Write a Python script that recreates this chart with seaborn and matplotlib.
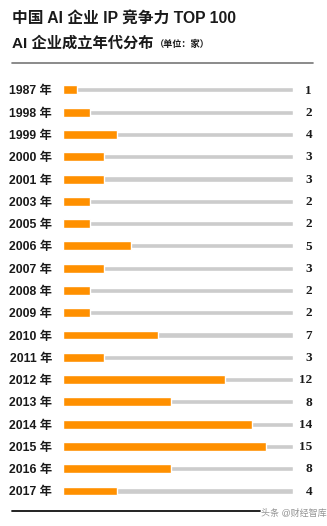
import matplotlib
matplotlib.use("Agg")
import matplotlib.pyplot as plt
import seaborn as sns
import pandas as pd

years = ["1987", "1998", "1999", "2000", "2001", "2003", "2005", "2006", "2007",
         "2008", "2009", "2010", "2011", "2012", "2013", "2014", "2015", "2016", "2017"]
counts = [1, 2, 4, 3, 3, 2, 2, 5, 3, 2, 2, 7, 3, 12, 8, 14, 15, 8, 4]
track_max = 17

title_main = "中国 AI 企业 IP 竞争力 TOP 100"
title_sub = "AI 企业成立年代分布"
unit_note = "（单位：家）"
source_note = "头条 @财经智库"

sns.set_theme(style="white")
plt.rcParams["font.family"] = ["Liberation Sans", "Noto Sans CJK SC", "DejaVu Sans"]

labels = [f"{y} 年" for y in years]
df = pd.DataFrame({"year": labels, "count": counts, "track": [track_max] * len(labels)})

fig = plt.figure(figsize=(3.27, 5.26), dpi=100)
ax = fig.add_axes([63 / 327, 0.0454, 230 / 327, 0.8048])

# grey full-length track behind each orange count bar
sns.barplot(data=df, x="track", y="year", orient="h", color="#cccccc",
            width=0.23, saturation=1, ax=ax, order=labels)
sns.barplot(data=df, x="count", y="year", orient="h", color="#ff9000",
            width=0.40, saturation=1, ax=ax, order=labels)

ax.set_xlim(0, track_max)
ax.set_ylim(len(labels) - 0.5, -0.5)
ax.set_xlabel("")
ax.set_ylabel("")
ax.set_xticks([])
for s in ax.spines.values():
    s.set_visible(False)
ax.tick_params(axis="y", length=0, pad=8)
for t in ax.get_yticklabels():
    t.set_fontweight("bold")
    t.set_fontsize(8.8)
    t.set_color("#1a1a1a")

for i, v in enumerate(counts):
    ax.annotate(str(v), xy=(1, i), xycoords=("axes fraction", "data"),
                xytext=(13.7, -0.5), textcoords="offset points",
                ha="right", va="center", fontsize=9.5, fontweight="bold",
                family="Liberation Serif", color="#1a1a1a")

fig.text(12 / 327, 1 - 18 / 526, title_main, fontsize=11.3, fontweight="bold",
         va="center", ha="left", color="#1a1a1a")
t2 = fig.text(12 / 327, 1 - 43 / 526, title_sub, fontsize=11, fontweight="bold",
              va="center", ha="left", color="#1a1a1a")
fig.canvas.draw()
bb = t2.get_window_extent()
fig.text((bb.x1 + 1) / 327, 1 - 44 / 526, unit_note, fontsize=6.6, fontweight="bold",
         va="center", ha="left", color="#1a1a1a")

fig.add_artist(plt.Line2D([12 / 327, 313 / 327], [1 - 63 / 526, 1 - 63 / 526],
                          color="#777777", lw=1.2))
fig.add_artist(plt.Line2D([12 / 327, 260 / 327], [1 - 511 / 526, 1 - 511 / 526],
                          color="#111111", lw=1.3))
fig.text(261 / 327, 1 - 513 / 526, source_note, fontsize=6.5, va="center", ha="left",
         color="#888888", alpha=0.9)

fig.savefig("out.png", dpi=100)
